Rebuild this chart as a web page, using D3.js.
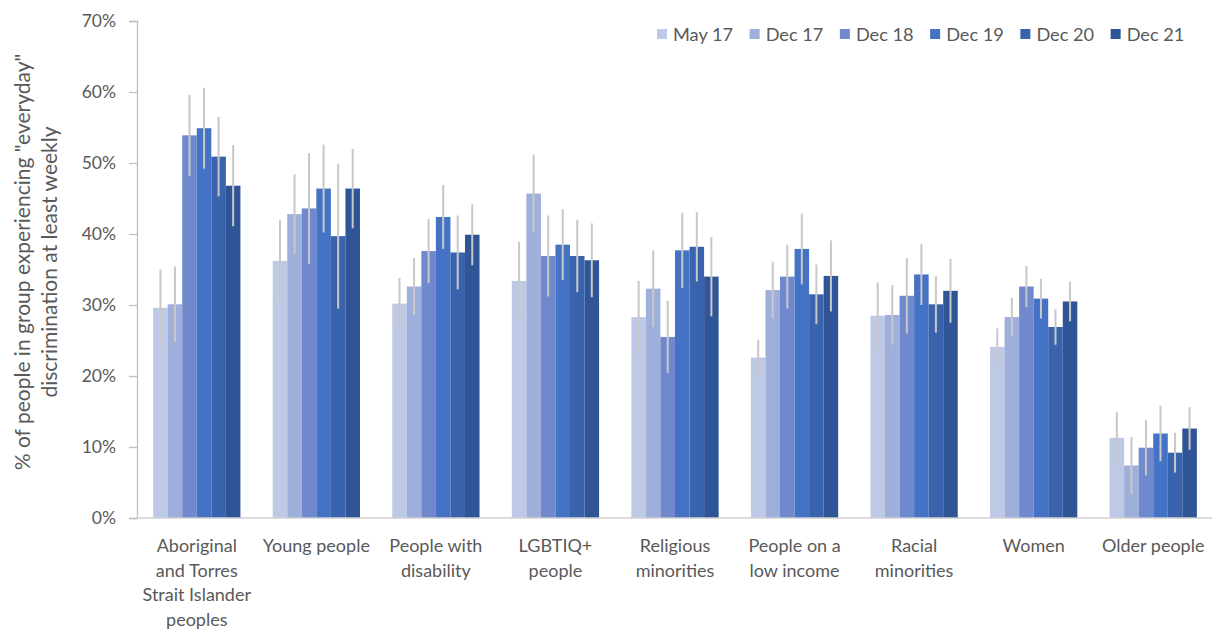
<!DOCTYPE html>
<html>
<head>
<meta charset="utf-8">
<script src="https://cdn.jsdelivr.net/npm/d3@7"></script>
<style>
  body { margin: 0; background: #fff; }
  text { font-family: Lato, "Open Sans", sans-serif; fill: #595959; }
</style>
</head>
<body>
<div id="chart"></div>
<script>
// categories, series and values (percent), error bars are +/- half widths
const categories = [
  ["Aboriginal", "and Torres", "Strait Islander", "peoples"],
  ["Young people"],
  ["People with", "disability"],
  ["LGBTIQ+", "people"],
  ["Religious", "minorities"],
  ["People on a", "low income"],
  ["Racial", "minorities"],
  ["Women"],
  ["Older people"]
];
const seriesNames = ["May 17", "Dec 17", "Dec 18", "Dec 19", "Dec 20", "Dec 21"];
const seriesColors = ["#bdc9e5", "#9eafdb", "#7089cc", "#4472c4", "#3a63ae", "#2f5597"];

const may17 = [29.6, 36.2, 30.2, 33.4, 28.3, 22.6, 28.5, 24.1, 11.3];
const dec17 = [30.1, 42.8, 32.6, 45.7, 32.3, 32.1, 28.6, 28.3, 7.4];
const dec18 = [53.9, 43.6, 37.6, 36.9, 25.5, 34.0, 31.3, 32.6, 9.9];
const dec19 = [54.9, 46.4, 42.4, 38.5, 37.7, 37.9, 34.3, 30.9, 11.9];
const dec20 = [50.9, 39.7, 37.4, 36.9, 38.2, 31.5, 30.1, 26.9, 9.2];
const dec21 = [46.8, 46.4, 39.9, 36.3, 34.0, 34.1, 32.0, 30.5, 12.6];

const errMay17 = [5.4, 5.8, 3.6, 5.5, 5.1, 2.5, 4.7, 2.6, 3.6];
const errDec17 = [5.3, 5.6, 4.0, 5.5, 5.4, 4.0, 4.2, 2.7, 4.0];
const errDec18 = [5.7, 7.8, 4.5, 5.7, 5.1, 4.5, 5.3, 2.9, 3.9];
const errDec19 = [5.7, 6.2, 4.5, 5.0, 5.3, 5.0, 4.3, 2.8, 3.9];
const errDec20 = [5.6, 10.2, 5.2, 5.1, 4.9, 4.2, 4.0, 2.5, 2.8];
const errDec21 = [5.7, 5.6, 4.3, 5.2, 5.6, 5.0, 4.5, 2.8, 3.0];

const yTicks = [0, 10, 20, 30, 40, 50, 60, 70];

const values = [may17, dec17, dec18, dec19, dec20, dec21];
const errors = [errMay17, errDec17, errDec18, errDec19, errDec20, errDec21];

const W = 1216, H = 632;
const svg = d3.select("#chart").append("svg")
    .attr("width", W)
    .attr("height", H);

const x0 = d3.scaleBand()
    .domain(d3.range(categories.length))
    .range([137, 1213])
    .paddingInner(0.27)
    .paddingOuter(0.135);
const x1 = d3.scaleBand()
    .domain(d3.range(seriesNames.length))
    .range([0, x0.bandwidth()]);
const y = d3.scaleLinear().domain([0, 70]).range([518, 21]);

// y axis
const yAxis = svg.append("g")
    .attr("transform", "translate(137,0)")
    .call(d3.axisLeft(y).tickValues(yTicks).tickSize(8).tickPadding(13).tickFormat(d => d + "%"));
yAxis.select(".domain").attr("stroke", "#bfbfbf").attr("stroke-width", 1.3);
yAxis.selectAll(".tick line").attr("stroke", "#bfbfbf").attr("stroke-width", 1.3);
yAxis.selectAll(".tick text")
    .attr("font-size", 17.5)
    .style("font-family", "Lato, sans-serif")
    .attr("fill", "#595959");

// bars
const groups = svg.append("g").selectAll("g")
    .data(categories.map((c, i) => i))
    .join("g")
    .attr("transform", i => `translate(${x0(i)},0)`);

groups.selectAll("rect")
    .data(i => values.map((s, k) => ({ k, v: s[i] })))
    .join("rect")
    .attr("x", d => x1(d.k))
    .attr("y", d => y(d.v))
    .attr("width", x1.bandwidth())
    .attr("height", d => y(0) - y(d.v))
    .attr("fill", d => seriesColors[d.k]);

// error bars
groups.selectAll("line.err")
    .data(i => values.map((s, k) => ({ k, v: s[i], e: errors[k][i] })))
    .join("line")
    .attr("class", "err")
    .attr("x1", d => x1(d.k) + x1.bandwidth() / 2)
    .attr("x2", d => x1(d.k) + x1.bandwidth() / 2)
    .attr("y1", d => y(d.v + d.e))
    .attr("y2", d => y(d.v - d.e))
    .attr("stroke", "#c8c8c8")
    .attr("stroke-width", 2);

// x axis baseline
svg.append("line")
    .attr("x1", 137).attr("x2", 1212)
    .attr("y1", y(0)).attr("y2", y(0))
    .attr("stroke", "#d0d0d0")
    .attr("stroke-width", 1.3);

// category labels
const cat = svg.append("g").selectAll("text")
    .data(categories)
    .join("text")
    .attr("text-anchor", "middle")
    .attr("font-size", 18)
    .attr("x", (d, i) => x0(i) + x0.bandwidth() / 2)
    .attr("y", 552);
cat.selectAll("tspan")
    .data(d => d)
    .join("tspan")
    .attr("x", function () { return d3.select(this.parentNode).attr("x"); })
    .attr("dy", (d, i) => i === 0 ? 0 : 24.5)
    .text(d => d);

// y axis title
const yt = svg.append("text")
    .attr("transform", "translate(30,262) rotate(-90)")
    .attr("text-anchor", "middle")
    .attr("font-size", 21);
yt.append("tspan").attr("x", 0).attr("dy", 0).text('% of people in group experiencing "everyday"');
yt.append("tspan").attr("x", 0).attr("dy", 27).text("discrimination at least weekly");

// legend
const legend = svg.append("g");
const items = legend.selectAll("g")
    .data(seriesNames)
    .join("g");
items.append("rect")
    .attr("width", 10).attr("height", 10)
    .attr("y", 29)
    .attr("fill", (d, i) => seriesColors[i]);
items.append("text")
    .attr("x", 16)
    .attr("y", 41)
    .attr("font-size", 18.2)
    .text(d => d);
let xpos = 657;
items.each(function () {
    const g = d3.select(this);
    g.attr("transform", `translate(${xpos},0)`);
    xpos += 16 + g.select("text").node().getComputedTextLength() + 16.5;
});
</script>
</body>
</html>
